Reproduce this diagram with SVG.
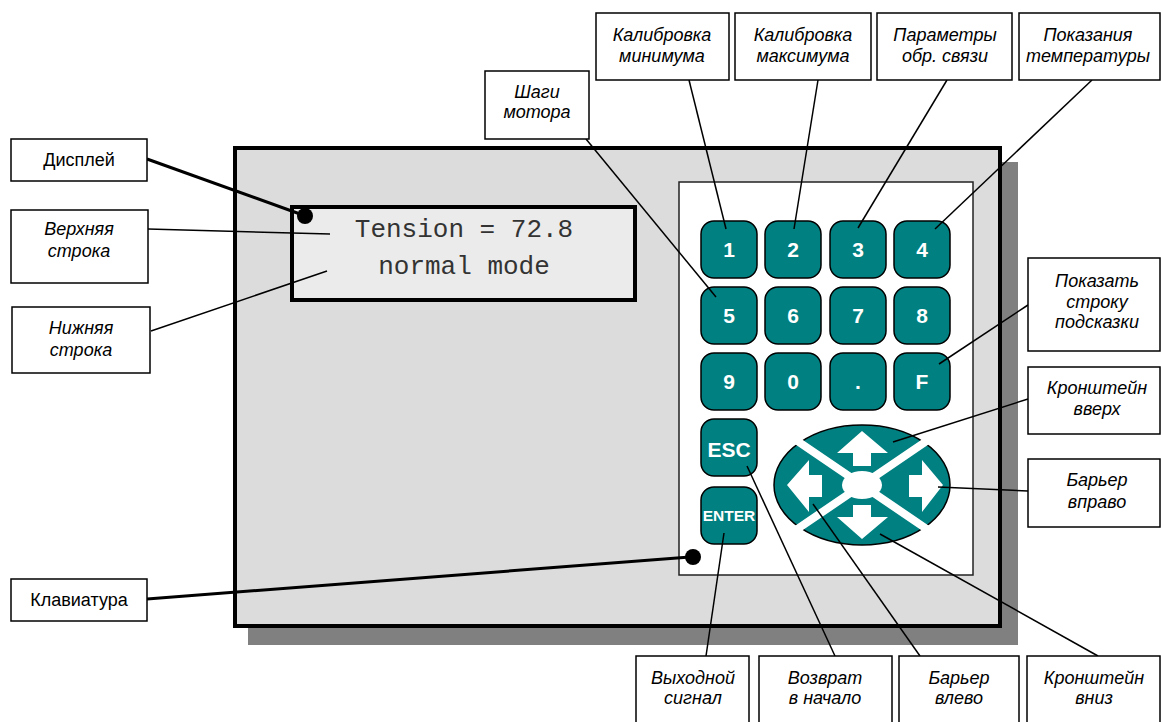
<svg xmlns="http://www.w3.org/2000/svg" width="1161" height="722" viewBox="0 0 1161 722">
<style>
.lbl{fill:#fff;stroke:#000;stroke-width:1.5}
.t{font-family:"Liberation Sans",Arial,sans-serif;font-size:18px;font-style:italic;fill:#000;text-anchor:middle}
.tu{font-family:"Liberation Sans",Arial,sans-serif;font-size:18px;fill:#000;text-anchor:middle}
.key{fill:#008080;stroke:#000;stroke-width:1.5}
.kt{font-family:"Liberation Sans",Arial,sans-serif;font-size:21px;font-weight:bold;fill:#fff;text-anchor:middle}
.ln{stroke:#000;stroke-width:1.5;fill:none}
.lnb{stroke:#000;stroke-width:3;fill:none}
.disp{font-family:"Liberation Mono","Courier New",monospace;font-size:26px;fill:#333;text-anchor:middle}
</style>
<rect width="1161" height="722" fill="#fff"/>
<g id="device">
<rect x="248" y="162" width="770" height="483" fill="#808080"/>
<rect x="235" y="148" width="765" height="478" fill="#dcdcdc" stroke="#000" stroke-width="4"/>
</g>
<g id="display">
<rect x="292" y="207" width="343" height="93" fill="#ebebeb" stroke="#000" stroke-width="4"/>
<text class="disp" x="464" y="237">Tension = 72.8</text>
<text class="disp" x="464" y="274">normal mode</text>
</g>
<g id="keypad">
<rect x="679" y="182" width="294" height="393" fill="#fff" stroke="#222" stroke-width="1.5"/>
</g>
<g id="key1"><rect class="key" x="701" y="221" width="56" height="57" rx="13"/><text class="kt" x="729" y="257">1</text></g>
<g id="key2"><rect class="key" x="765" y="221" width="56" height="57" rx="13"/><text class="kt" x="793" y="257">2</text></g>
<g id="key3"><rect class="key" x="830" y="221" width="56" height="57" rx="13"/><text class="kt" x="858" y="257">3</text></g>
<g id="key4"><rect class="key" x="894" y="221" width="56" height="57" rx="13"/><text class="kt" x="922" y="257">4</text></g>
<g id="key5"><rect class="key" x="701" y="287" width="56" height="57" rx="13"/><text class="kt" x="729" y="323">5</text></g>
<g id="key6"><rect class="key" x="765" y="287" width="56" height="57" rx="13"/><text class="kt" x="793" y="323">6</text></g>
<g id="key7"><rect class="key" x="830" y="287" width="56" height="57" rx="13"/><text class="kt" x="858" y="323">7</text></g>
<g id="key8"><rect class="key" x="894" y="287" width="56" height="57" rx="13"/><text class="kt" x="922" y="323">8</text></g>
<g id="key9"><rect class="key" x="701" y="353" width="56" height="57" rx="13"/><text class="kt" x="729" y="389">9</text></g>
<g id="key0"><rect class="key" x="765" y="353" width="56" height="57" rx="13"/><text class="kt" x="793" y="389">0</text></g>
<g id="keydot"><rect class="key" x="830" y="353" width="56" height="57" rx="13"/><text class="kt" x="858" y="389">.</text></g>
<g id="keyF"><rect class="key" x="894" y="353" width="56" height="57" rx="13"/><text class="kt" x="922" y="389">F</text></g>
<g id="keyESC"><rect class="key" x="701" y="419" width="56" height="57" rx="13"/><text class="kt" x="729" y="457">ESC</text></g>
<g id="keyENTER"><rect class="key" x="701" y="487" width="56" height="57" rx="13"/><text class="kt" x="729" y="521" style="font-size:15.5px">ENTER</text></g>
<g id="arrows">
<ellipse cx="862" cy="485" rx="88" ry="60" fill="#008080" stroke="#000" stroke-width="1.5"/>
<path d="M790,436 L934,534 M934,436 L790,534" stroke="#fff" stroke-width="8"/>
<ellipse cx="862" cy="485" rx="20" ry="14" fill="#fff"/>
<polygon fill="#fff" points="862,431 888,453 871,453 871,466 853,466 853,453 837,453"/>
<polygon fill="#fff" points="853,505 871,505 871,517 888,517 862,539 837,517 853,517"/>
<polygon fill="#fff" points="787,485 809,460 809,475 822,475 822,497 809,497 809,512"/>
<polygon fill="#fff" points="943,485 922,512 922,497 909,497 909,475 922,475 922,460"/>
</g>
<g id="connectors">
<line class="lnb" x1="147" y1="159" x2="300" y2="214"/>
<circle cx="305" cy="216" r="8" fill="#000"/>
<line class="ln" x1="148" y1="229" x2="330" y2="234"/>
<line class="ln" x1="151" y1="331" x2="327" y2="271"/>
<line class="lnb" x1="147" y1="599" x2="690" y2="557"/>
<circle cx="693" cy="557" r="8" fill="#000"/>
<line class="ln" x1="586" y1="139" x2="716" y2="297"/>
<line class="ln" x1="689" y1="80" x2="726" y2="229"/>
<line class="ln" x1="818" y1="80" x2="794" y2="229"/>
<line class="ln" x1="947" y1="80" x2="858" y2="228"/>
<line class="ln" x1="1092" y1="80" x2="935" y2="229"/>
<line class="ln" x1="1028" y1="305" x2="939" y2="364"/>
<line class="ln" x1="1028" y1="399" x2="893" y2="442"/>
<line class="ln" x1="1028" y1="491" x2="938" y2="487"/>
<line class="ln" x1="724" y1="533" x2="706" y2="656"/>
<line class="ln" x1="747" y1="466" x2="835" y2="656"/>
<line class="ln" x1="813" y1="504" x2="920" y2="656"/>
<line class="ln" x1="880" y1="534" x2="1098" y2="656"/>
</g>
<g id="lbl-display"><rect class="lbl" x="11" y="139" width="136" height="42"/><text class="tu" x="79" y="166">Дисплей</text></g>
<g id="lbl-top"><rect class="lbl" x="11" y="210" width="137" height="73"/><text class="t" x="79" y="235">Верхняя</text><text class="t" x="79" y="257">строка</text></g>
<g id="lbl-bottom"><rect class="lbl" x="12" y="307" width="138" height="66"/><text class="t" x="81" y="334">Нижняя</text><text class="t" x="81" y="356">строка</text></g>
<g id="lbl-keyboard"><rect class="lbl" x="11" y="579" width="136" height="42"/><text class="tu" x="79" y="606">Клавиатура</text></g>
<g id="lbl-steps"><rect class="lbl" x="485" y="71" width="104" height="68"/><text class="t" x="537" y="98">Шаги</text><text class="t" x="537" y="118">мотора</text></g>
<g id="lbl-calmin"><rect class="lbl" x="596" y="13" width="133" height="67"/><text class="t" x="662" y="41">Калибровка</text><text class="t" x="662" y="62">минимума</text></g>
<g id="lbl-calmax"><rect class="lbl" x="735" y="13" width="136" height="67"/><text class="t" x="803" y="41">Калибровка</text><text class="t" x="803" y="62">максимума</text></g>
<g id="lbl-fb"><rect class="lbl" x="877" y="13" width="135" height="67"/><text class="t" x="945" y="41">Параметры</text><text class="t" x="945" y="62">обр. связи</text></g>
<g id="lbl-temp"><rect class="lbl" x="1019" y="13" width="141" height="67"/><text class="t" x="1088" y="41">Показания</text><text class="t" x="1088" y="62">температуры</text></g>
<g id="lbl-hint"><rect class="lbl" x="1028" y="258" width="132" height="93"/><text class="t" x="1097" y="287">Показать</text><text class="t" x="1097" y="308">строку</text><text class="t" x="1097" y="328">подсказки</text></g>
<g id="lbl-up"><rect class="lbl" x="1028" y="367" width="132" height="67"/><text class="t" x="1097" y="394">Кронштейн</text><text class="t" x="1097" y="415">вверх</text></g>
<g id="lbl-right"><rect class="lbl" x="1028" y="459" width="132" height="68"/><text class="t" x="1097" y="486">Барьер</text><text class="t" x="1097" y="508">вправо</text></g>
<g id="lbl-out"><rect class="lbl" x="636" y="656" width="113" height="74"/><text class="t" x="693" y="684">Выходной</text><text class="t" x="693" y="704">сигнал</text></g>
<g id="lbl-home"><rect class="lbl" x="759" y="656" width="133" height="74"/><text class="t" x="825" y="684">Возврат</text><text class="t" x="825" y="704">в начало</text></g>
<g id="lbl-left"><rect class="lbl" x="899" y="656" width="120" height="74"/><text class="t" x="959" y="684">Барьер</text><text class="t" x="959" y="704">влево</text></g>
<g id="lbl-down"><rect class="lbl" x="1027" y="656" width="133" height="74"/><text class="t" x="1094" y="684">Кронштейн</text><text class="t" x="1094" y="704">вниз</text></g>
</svg>
